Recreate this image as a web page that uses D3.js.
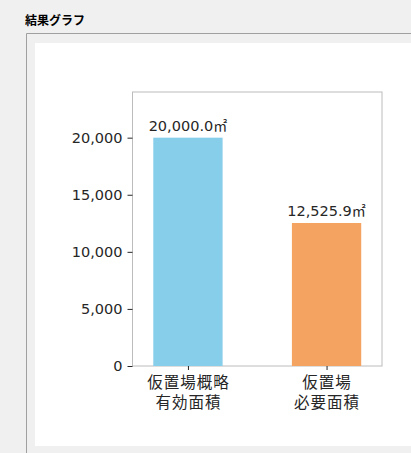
<!DOCTYPE html>
<html>
<head>
<meta charset="utf-8">
<script src="https://cdn.jsdelivr.net/npm/d3@7"></script>
<style>
  html, body { margin: 0; padding: 0; background: #f0f0f0; }
  svg { display: block; }
</style>
</head>
<body>
<div id="chart"></div>
<script>
const categories = ["仮置場概略", "仮置場"];
const categories2 = ["有効面積", "必要面積"];
const values = [20000.0, 12525.9];
const barColors = ["#87ceeb", "#f4a460"];
const yTicks = [0, 5000, 10000, 15000, 20000];
const unit = "㎡";

const width = 411, height = 453;
const plot = { left: 132.5, right: 382, top: 92, bottom: 366 };

const svg = d3.select("#chart").append("svg")
  .attr("width", width)
  .attr("height", height);

// window background + group box
svg.append("rect").attr("width", width).attr("height", height).attr("fill", "#f0f0f0");
svg.append("text")
  .attr("x", 25).attr("y", 25)
  .style("font-family", "'Noto Sans CJK JP', sans-serif")
  .style("font-size", "12px")
  .style("font-weight", "bold")
  .attr("fill", "#000")
  .text("結果グラフ");
svg.append("path")
  .attr("d", `M26.5,${height} V33.5 H${width}`)
  .attr("fill", "none")
  .attr("stroke", "#a0a0a0");
svg.append("rect")
  .attr("x", 35).attr("y", 43)
  .attr("width", width - 35).attr("height", 446 - 43)
  .attr("fill", "#fff");

const x = d3.scaleLinear().domain([-0.4, 1.4]).range([plot.left, plot.right]);
const y = d3.scaleLinear().domain([0, 24000]).range([plot.bottom, plot.top]);
const barW = 0.5;

// frame
svg.append("rect")
  .attr("x", plot.left).attr("y", plot.top)
  .attr("width", plot.right - plot.left).attr("height", plot.bottom - plot.top)
  .attr("fill", "none").attr("stroke", "#bcbcbc");

svg.selectAll(".bar")
  .data(values)
  .enter().append("rect")
  .attr("class", "bar")
  .attr("x", (d, i) => x(i - barW / 2))
  .attr("width", x(barW) - x(0))
  .attr("y", d => y(d))
  .attr("height", d => y(0) - y(d))
  .attr("fill", (d, i) => barColors[i]);

const val = svg.selectAll(".val")
  .data(values)
  .enter().append("text")
  .attr("class", "val")
  .attr("x", (d, i) => x(i))
  .attr("y", d => y(d) - 7)
  .attr("text-anchor", "middle")
  .style("font-family", "'DejaVu Sans', sans-serif")
  .style("font-size", "14.5px")
  .attr("fill", "#262626");
val.append("tspan").text(d => d3.format(",.1f")(d));
val.append("tspan")
  .style("font-family", "'Noto Sans CJK JP', sans-serif")
  .style("font-size", "14px")
  .text(unit);

// y axis
const yAxis = svg.append("g")
  .attr("transform", `translate(${plot.left},0)`)
  .call(d3.axisLeft(y).tickValues(yTicks).tickFormat(d3.format(",")).tickSize(5).tickPadding(5));
yAxis.select(".domain").remove();
yAxis.selectAll("line").attr("stroke", "#262626");
yAxis.selectAll("text")
  .style("font-family", "'DejaVu Sans', sans-serif")
  .style("font-size", "14.5px")
  .attr("fill", "#262626");

// x axis
const xAxis = svg.append("g")
  .attr("transform", `translate(0,${plot.bottom})`)
  .call(d3.axisBottom(x).tickValues([0, 1]).tickFormat("").tickSize(4));
xAxis.select(".domain").remove();
xAxis.selectAll("line").attr("stroke", "#262626");

[categories, categories2].forEach((labels, j) => {
  svg.selectAll(".cat" + j)
    .data(labels)
    .enter().append("text")
    .attr("class", "cat" + j)
    .attr("x", (d, i) => x(i) + 0.5)
    .attr("y", plot.bottom + 22 + j * 20)
    .attr("text-anchor", "middle")
    .style("font-family", "'Noto Sans CJK JP', sans-serif")
    .style("font-size", "15.5px")
    .style("letter-spacing", "1px")
    .attr("fill", "#262626")
    .text(d => d);
});
</script>
</body>
</html>
